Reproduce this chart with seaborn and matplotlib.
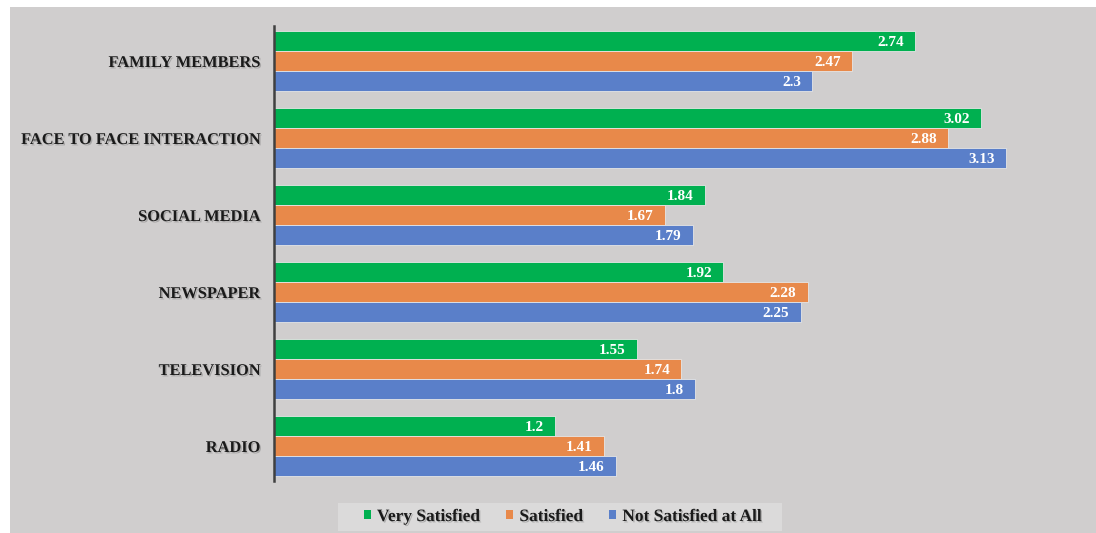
import matplotlib
matplotlib.use("Agg")
import matplotlib.pyplot as plt
import matplotlib.patheffects as pe
from matplotlib.patches import Rectangle
import pandas as pd
import seaborn as sns

sources = ["FAMILY MEMBERS", "FACE TO FACE INTERACTION", "SOCIAL MEDIA",
           "NEWSPAPER", "TELEVISION", "RADIO"]
very_satisfied = [2.74, 3.02, 1.84, 1.92, 1.55, 1.2]
satisfied = [2.47, 2.88, 1.67, 2.28, 1.74, 1.41]
not_satisfied = [2.3, 3.13, 1.79, 2.25, 1.8, 1.46]
groups = ["Very Satisfied", "Satisfied", "Not Satisfied at All"]
colors = ["#00b050", "#e8894a", "#5a7fc9"]

rows = []
for grp, vals in zip(groups, [very_satisfied, satisfied, not_satisfied]):
    for src, v in zip(sources, vals):
        rows.append({"source": src, "group": grp, "value": v})
df = pd.DataFrame(rows)

sns.set_theme(style="white")
plt.rcParams["font.family"] = ["Liberation Serif", "DejaVu Serif"]

W, H = 1096, 533
bg = "#d0cece"
fig = plt.figure(figsize=(W / 100, H / 100), dpi=100, facecolor="white")

# grey chart area with a thin white margin on the top and left
panel = Rectangle((10 / W, 0), 1 - 10 / W, 1 - 7 / H,
                  transform=fig.transFigure, facecolor=bg, edgecolor="none")
panel.set_zorder(-10)
fig.add_artist(panel)

# lighter strip behind the legend
legbox = Rectangle((338 / W, 1 - 531 / H), (782 - 338) / W, 28 / H,
                   transform=fig.transFigure, facecolor="#dbdada", edgecolor="none")
legbox.set_zorder(-5)
fig.add_artist(legbox)

ax = fig.add_axes([274 / W, 1 - 484.5 / H, (1093 - 274) / W, 462 / H])
ax.set_facecolor("none")

sns.barplot(data=df, y="source", x="value", hue="group", order=sources,
            hue_order=groups, palette=colors, orient="h", width=0.78,
            saturation=1, edgecolor="#e6e6e6", linewidth=0.6, ax=ax,
            legend=False)

ax.set_xlim(0, 3.5)
ax.set_ylim(5.5, -0.5)
ax.set_xlabel("")
ax.set_ylabel("")
ax.set_xticks([])
for side in ["top", "right", "bottom"]:
    ax.spines[side].set_visible(False)
ax.spines["left"].set_color("#404040")
ax.spines["left"].set_linewidth(1.8)
ax.spines["left"].set_bounds(5.45, -0.46)
ax.tick_params(axis="y", length=0, pad=10)

shadow = [pe.withSimplePatchShadow(offset=(1, -1), shadow_rgbFace="#777777", alpha=0.45)]
for lbl in ax.get_yticklabels():
    lbl.set_fontsize(11.8)
    lbl.set_fontweight("bold")
    lbl.set_color("#1a1a1a")
    lbl.set_path_effects(shadow)

for cont, vals in zip(ax.containers, [very_satisfied, satisfied, not_satisfied]):
    for bar, v in zip(cont, vals):
        ax.annotate(f"{v:g}", xy=(bar.get_width(), bar.get_y() + bar.get_height() / 2),
                    xytext=(-8, -1), textcoords="offset points", ha="right",
                    va="center", color="white", fontsize=11, fontweight="bold")

handles = [Rectangle((0, 0), 1, 1, facecolor=c, edgecolor="none") for c in colors]
leg = fig.legend(handles, groups, loc="center", bbox_to_anchor=(563 / W, 1 - 517 / H),
                 ncol=3, frameon=False, handlelength=0.4, handleheight=0.4,
                 handletextpad=0.35, columnspacing=1.5,
                 prop={"weight": "bold", "size": 12.5})
for t in leg.get_texts():
    t.set_color("#1a1a1a")
    t.set_path_effects(shadow)

fig.savefig("out.png", dpi=100, facecolor="white")
